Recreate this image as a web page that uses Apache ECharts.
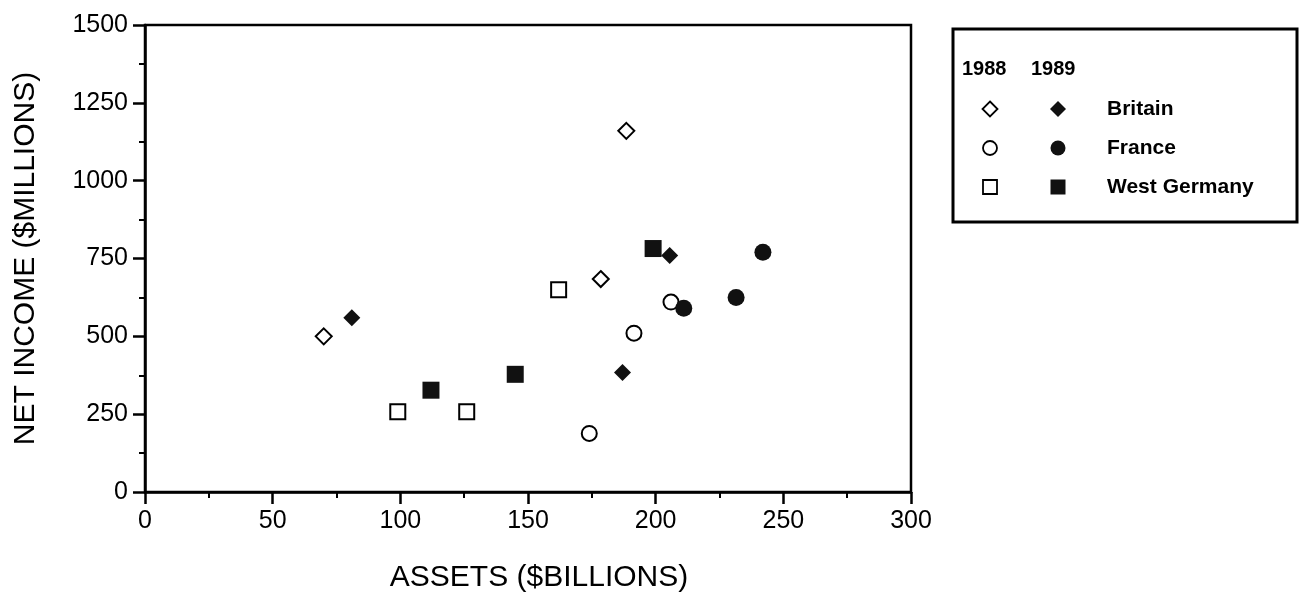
<!DOCTYPE html>
<html><head><meta charset="utf-8">
<script src="https://cdn.jsdelivr.net/npm/echarts@6/dist/echarts.min.js"></script>
<style>html,body{margin:0;padding:0;background:#fff}#chart{width:1299px;height:605px}</style>
</head><body><div id="chart"></div>
<script>
// ---- data ----
const xAxisTitle = 'ASSETS ($BILLIONS)';
const yAxisTitle = 'NET INCOME ($MILLIONS)';
const xRange = [0, 300, 50];     // min, max, interval
const yRange = [0, 1500, 250];
const yearLabels = ['1988', '1989'];
const countries = ['Britain', 'France', 'West Germany'];
const britain1988 = [[70, 500], [178.5, 684], [188.5, 1160]];
const britain1989 = [[81, 560], [187, 384], [205.5, 760]];
const france1988 = [[174, 188], [191.5, 510], [206, 610]];
const france1989 = [[211, 590], [231.5, 625], [242, 770]];
const westGermany1988 = [[99, 258], [126, 258], [162, 650]];
const westGermany1989 = [[112, 327], [145, 378], [199, 782]];

const FONT = '"Liberation Sans", Arial, Helvetica, sans-serif';
const chart = echarts.init(document.getElementById('chart'));

function openStyle() { return { color: '#fff', borderColor: '#000', borderWidth: 2, opacity: 1 }; }
function filledStyle() { return { color: '#111', borderColor: '#111', borderWidth: 0, opacity: 1 }; }

const seriesDefs = [
  { name: countries[0] + ' ' + yearLabels[0], data: britain1988, symbol: 'diamond', symbolSize: 16, itemStyle: openStyle() },
  { name: countries[0] + ' ' + yearLabels[1], data: britain1989, symbol: 'diamond', symbolSize: 17, itemStyle: filledStyle() },
  { name: countries[1] + ' ' + yearLabels[0], data: france1988, symbol: 'circle', symbolSize: 15, itemStyle: openStyle() },
  { name: countries[1] + ' ' + yearLabels[1], data: france1989, symbol: 'circle', symbolSize: 17, itemStyle: filledStyle() },
  { name: countries[2] + ' ' + yearLabels[0], data: westGermany1988, symbol: 'rect', symbolSize: 15, itemStyle: openStyle() },
  { name: countries[2] + ' ' + yearLabels[1], data: westGermany1989, symbol: 'rect', symbolSize: 17, itemStyle: filledStyle() }
];

// ---- legend drawn as graphic (two year columns) ----
const LX = 953, LY = 29, LW = 344, LH = 193;
const colX = [990, 1058], rowY = [109, 148, 187];
const legendShapes = ['diamond', 'circle', 'rect'];
const graphics = [
  { type: 'rect', shape: { x: LX, y: LY, width: LW, height: LH }, style: { fill: '#fff', stroke: '#000', lineWidth: 3 } },
  { type: 'text', x: 962, y: 69, style: { text: yearLabels[0], font: 'bold 20px ' + FONT, fill: '#000', verticalAlign: 'middle' } },
  { type: 'text', x: 1031, y: 69, style: { text: yearLabels[1], font: 'bold 20px ' + FONT, fill: '#000', verticalAlign: 'middle' } }
];
function marker(shape, cx, cy, filled) {
  const st = filled ? { fill: '#111', stroke: '#111', lineWidth: 0 } : { fill: '#fff', stroke: '#000', lineWidth: 1.8 };
  const h = filled ? 8 : 7.5;
  if (shape === 'diamond') return { type: 'polygon', shape: { points: [[cx, cy - h], [cx + h, cy], [cx, cy + h], [cx - h, cy]] }, style: st };
  if (shape === 'circle') return { type: 'circle', shape: { cx: cx, cy: cy, r: h - 0.5 }, style: st };
  return { type: 'rect', shape: { x: cx - h + 0.5, y: cy - h + 0.5, width: 2 * h - 1, height: 2 * h - 1 }, style: st };
}
countries.forEach((c, i) => {
  graphics.push(marker(legendShapes[i], colX[0], rowY[i], false));
  graphics.push(marker(legendShapes[i], colX[1], rowY[i], true));
  graphics.push({ type: 'text', x: 1107, y: rowY[i], style: { text: c, font: 'bold 21px ' + FONT, fill: '#000', verticalAlign: 'middle' } });
});

const axisCommon = {
  axisLine: { show: true, onZero: false, lineStyle: { color: '#000', width: 2.5 } },
  axisTick: { show: true, inside: false, length: 12, lineStyle: { color: '#000', width: 2.5 } },
  minorTick: { show: true, splitNumber: 2, length: 6, lineStyle: { color: '#000', width: 2 } },
  splitLine: { show: false },
  axisLabel: { color: '#000', fontSize: 25, fontFamily: FONT, margin: 17, formatter: v => String(v) }
};

chart.setOption({
  animation: false,
  backgroundColor: '#fff',
  grid: { left: 145, right: 388, top: 25, bottom: 113, show: true, borderColor: '#000', borderWidth: 2.5, backgroundColor: 'transparent' },
  xAxis: Object.assign({
    type: 'value', min: xRange[0], max: xRange[1], interval: xRange[2],
    name: xAxisTitle, nameLocation: 'middle', nameGap: 71,
    nameTextStyle: { color: '#000', fontSize: 30, fontFamily: FONT, padding: [0, 0, 0, 22] }
  }, axisCommon),
  yAxis: Object.assign({
    type: 'value', min: yRange[0], max: yRange[1], interval: yRange[2],
    name: yAxisTitle, nameLocation: 'middle', nameGap: 104,
    nameTextStyle: { color: '#000', fontSize: 30, fontFamily: FONT }
  }, axisCommon),
  series: seriesDefs.map(s => Object.assign({ type: 'scatter' }, s)),
  graphic: graphics
});
</script></body></html>
